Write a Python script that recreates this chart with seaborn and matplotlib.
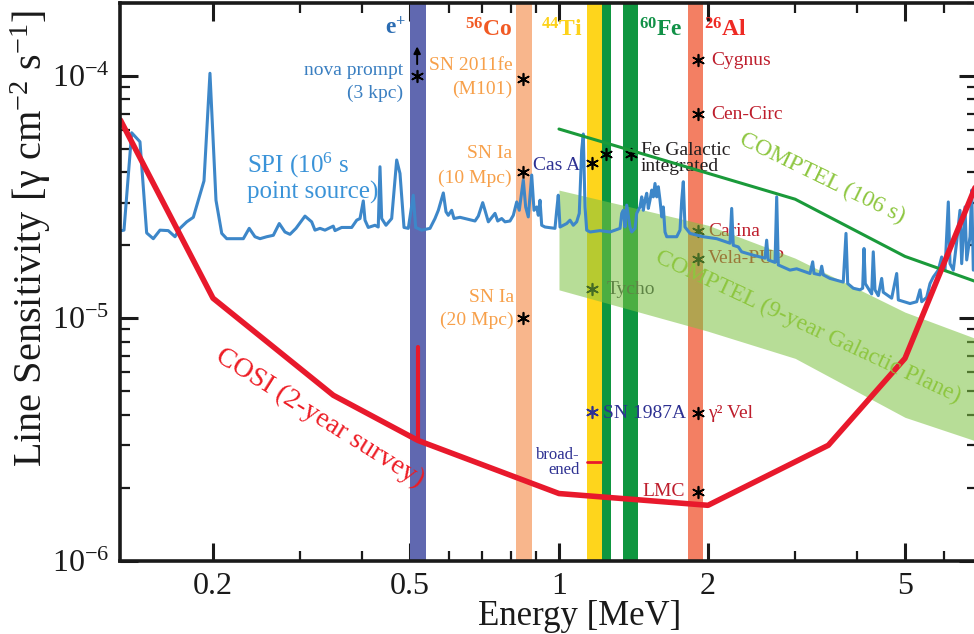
import numpy as np
import pandas as pd
import matplotlib
matplotlib.use("Agg")
import matplotlib.pyplot as plt
import seaborn as sns
from matplotlib.ticker import FixedLocator, FixedFormatter, NullFormatter

# ---------------- data ----------------
spi_energy = [0.1308, 0.1322, 0.1370, 0.1424, 0.1469, 0.1515, 0.1563, 0.1624, 0.1676, 0.1715,
              0.1770, 0.1825, 0.1918, 0.1972, 0.2028, 0.2083, 0.2132, 0.2303, 0.2367, 0.2431,
              0.2489, 0.2568, 0.2648, 0.2722, 0.2795, 0.2861, 0.2942, 0.3068, 0.3165, 0.3214,
              0.3290, 0.3367, 0.3499, 0.3528, 0.3639, 0.3813, 0.3903, 0.3963, 0.4024, 0.4056,
              0.4118, 0.4249, 0.4314, 0.4349, 0.4383, 0.4472, 0.4592, 0.4700, 0.4773, 0.4863,
              0.4961, 0.5077, 0.5134, 0.5280, 0.5488, 0.5617, 0.5705, 0.5839, 0.5912, 0.5976,
              0.6070, 0.6136, 0.6310, 0.6558, 0.6766, 0.6871, 0.7013, 0.7088, 0.7199, 0.7426,
              0.7520, 0.7660, 0.7779, 0.7962, 0.8086, 0.8214, 0.8313, 0.8471, 0.8564, 0.8670,
              0.8808, 0.8903, 0.9015, 0.9083, 0.9155, 0.9227, 0.9369, 0.9815, 0.9894, 0.9967,
              1.0047, 1.0365, 1.0525, 1.0688, 1.0858, 1.0990, 1.1113, 1.1197, 1.1287, 1.1376,
              1.1553, 1.2100, 1.2677, 1.3284, 1.3390, 1.3489, 1.3594, 1.3703, 1.3804, 1.3914,
              1.4026, 1.4242, 1.4355, 1.4576, 1.4693, 1.4803, 1.4920, 1.5040, 1.5151, 1.5270,
              1.5394, 1.5508, 1.5631, 1.5757, 1.5874, 1.5999, 1.6128, 1.6247, 1.6375, 1.6507,
              1.7293, 1.7558, 1.7699, 1.7830, 1.7970, 1.8394, 1.9565, 2.0827, 2.2155, 2.2330,
              2.2496, 2.3024, 2.3391, 2.4697, 2.6071, 2.6276, 2.6471, 2.7317, 2.7531, 2.7735,
              2.9286, 3.0210, 3.2146, 3.2548, 3.2749, 3.3675, 3.3941, 3.4195, 3.5277, 3.7522,
              3.8003, 3.8305, 3.9317, 4.0560, 4.1068, 4.1324, 4.1573, 4.2825, 4.3142, 4.3488,
              4.4164, 4.4864, 4.5203, 4.7000, 4.8108, 4.8474, 5.1181, 5.2804, 5.3626, 5.4048,
              5.5311, 5.6170, 5.7044, 5.8385, 5.9307, 6.0230, 6.1165, 6.1646, 6.2604, 6.3598,
              6.4583, 6.5092, 6.6105, 6.6626, 6.7664, 6.8195, 6.8707]
spi_sens = [2.30e-5, 2.31e-5, 5.83e-5, 5.35e-5, 2.25e-5, 2.13e-5, 2.31e-5, 2.30e-5, 2.17e-5, 2.35e-5,
            2.50e-5, 2.61e-5, 3.69e-5, 1.026e-4, 3.07e-5, 2.24e-5, 2.13e-5, 2.13e-5, 2.35e-5, 2.17e-5,
            2.13e-5, 2.17e-5, 2.20e-5, 2.46e-5, 2.27e-5, 2.22e-5, 2.35e-5, 2.64e-5, 2.50e-5, 2.31e-5,
            2.35e-5, 2.31e-5, 2.40e-5, 2.30e-5, 2.37e-5, 2.37e-5, 2.54e-5, 2.58e-5, 3.05e-5, 2.54e-5,
            2.37e-5, 2.42e-5, 2.38e-5, 4.22e-5, 2.58e-5, 2.42e-5, 2.58e-5, 4.50e-5, 3.96e-5, 2.37e-5,
            2.35e-5, 3.22e-5, 2.37e-5, 2.31e-5, 2.35e-5, 2.58e-5, 2.79e-5, 3.29e-5, 2.75e-5, 2.66e-5,
            2.79e-5, 2.58e-5, 2.61e-5, 2.56e-5, 2.52e-5, 2.64e-5, 3.00e-5, 2.79e-5, 2.50e-5, 2.71e-5,
            2.52e-5, 2.58e-5, 2.50e-5, 2.52e-5, 2.66e-5, 3.02e-5, 2.79e-5, 3.72e-5, 2.88e-5, 2.62e-5,
            3.90e-5, 2.79e-5, 2.88e-5, 2.66e-5, 3.07e-5, 2.42e-5, 2.38e-5, 2.35e-5, 2.79e-5, 3.22e-5,
            2.38e-5, 2.46e-5, 2.54e-5, 2.42e-5, 2.50e-5, 2.71e-5, 4.94e-5, 5.76e-5, 2.88e-5, 2.31e-5,
            2.27e-5, 2.30e-5, 2.27e-5, 2.35e-5, 2.71e-5, 2.79e-5, 2.38e-5, 2.93e-5, 2.66e-5, 2.38e-5,
            2.27e-5, 2.35e-5, 2.71e-5, 2.88e-5, 3.17e-5, 2.79e-5, 3.07e-5, 3.28e-5, 2.84e-5, 3.07e-5,
            3.38e-5, 3.17e-5, 3.60e-5, 3.17e-5, 3.49e-5, 3.07e-5, 2.62e-5, 2.88e-5, 2.27e-5, 2.17e-5,
            2.17e-5, 2.31e-5, 3.07e-5, 3.66e-5, 2.38e-5, 2.24e-5, 2.17e-5, 2.13e-5, 2.04e-5, 2.84e-5,
            2.00e-5, 1.97e-5, 1.88e-5, 1.82e-5, 1.77e-5, 2.10e-5, 1.74e-5, 1.70e-5, 3.17e-5, 1.66e-5,
            1.58e-5, 1.60e-5, 1.53e-5, 1.71e-5, 1.53e-5, 1.51e-5, 1.64e-5, 1.51e-5, 1.46e-5, 1.41e-5,
            2.24e-5, 1.39e-5, 1.33e-5, 1.31e-5, 1.33e-5, 1.94e-5, 1.39e-5, 1.26e-5, 1.88e-5, 1.31e-5,
            1.24e-5, 1.46e-5, 1.28e-5, 1.21e-5, 1.53e-5, 1.19e-5, 1.15e-5, 1.17e-5, 1.31e-5, 1.17e-5,
            1.22e-5, 1.39e-5, 1.48e-5, 1.58e-5, 1.79e-5, 1.58e-5, 3.02e-5, 1.68e-5, 1.58e-5, 2.07e-5,
            2.79e-5, 1.68e-5, 2.88e-5, 1.74e-5, 2.17e-5, 3.38e-5, 1.58e-5]

cosi_energy = [0.13, 0.2, 0.35, 0.519, 1.0, 2.0, 3.5, 5.0, 7.0]
cosi_sens = [6.58e-5, 1.21e-5, 4.81e-6, 3.13e-6, 1.89e-6, 1.69e-6, 2.99e-6, 6.83e-6, 3.65e-5]

cosi_posi_energy = [0.519, 0.519]
cosi_posi_sens = [3.13e-6, 7.59e-6]
cosi_broad_energy = [1.139, 1.216]
cosi_broad_sens = [2.54e-6, 2.54e-6]

comptel_energy = [1.0, 3.0, 5.0, 7.0]
comptel_sens = [6.04e-5, 3.10e-5, 1.80e-5, 1.41e-5]

gp_energy = [1.0, 2.0, 3.0, 5.0, 7.0]
gp_upper = [3.38e-5, 2.42e-5, 1.77e-5, 1.06e-5, 8.2e-6]
gp_lower = [1.31e-5, 8.84e-6, 6.83e-6, 3.90e-6, 3.1e-6]

line_names = ["e+", "56Co", "44Ti", "60Fe a", "60Fe b", "26Al"]
line_lo = [0.500, 0.819, 1.139, 1.221, 1.347, 1.822]
line_hi = [0.538, 0.882, 1.221, 1.274, 1.444, 1.954]
line_colors = ["#6068b0", "#f8b68c", "#fed51c", "#0f9640", "#0f9640", "#f37f63"]

src_names = ["nova", "SN 2011fe", "SN Ia 10", "SN Ia 20", "Cas A", "Fe1", "Fe2", "Tycho",
             "Cygnus", "Cen-Circ", "Carina", "Vela-PUP", "gam2 Vel", "LMC"]
src_energy = [0.517, 0.847, 0.847, 0.847, 1.165, 1.247, 1.395, 1.165,
              1.905, 1.905, 1.905, 1.905, 1.905, 1.905]
src_flux = [1.0e-4, 9.7e-5, 4.0e-5, 1.0e-5, 4.37e-5, 4.76e-5, 4.76e-5, 1.32e-5,
            1.164e-4, 6.97e-5, 2.29e-5, 1.75e-5, 4.05e-6, 1.91e-6]
sn87_energy = [1.165]
sn87_flux = [4.09e-6]

xticks_major = [0.2, 0.5, 1, 2, 5]
xtick_labels = ["0.2", "0.5", "1", "2", "5"]
xticks_minor = [0.3, 0.4, 0.6, 0.7, 0.8, 0.9, 3, 4, 6, 7]
yticks_major = [1e-6, 1e-5, 1e-4]
ytick_labels = [r"10$^{\mathregular{-6}}$", r"10$^{\mathregular{-5}}$", r"10$^{\mathregular{-4}}$"]
yticks_minor = [k * 10.0 ** e for e in (-6, -5) for k in range(2, 10)] + [2e-4]

# ---------------- style ----------------
sns.set_style("ticks")
plt.rcParams["font.family"] = ["Liberation Serif", "DejaVu Serif"]
plt.rcParams["mathtext.fontset"] = "custom"
plt.rcParams["mathtext.rm"] = "Liberation Serif"
plt.rcParams["mathtext.it"] = "Liberation Serif:italic"
plt.rcParams["mathtext.bf"] = "Liberation Serif:bold"

fig = plt.figure(figsize=(9.74, 6.34), dpi=100)
ax = fig.add_axes([0.1236, 0.1159, 0.8798, 0.8793])
ax.set_xscale("log")
ax.set_yscale("log")
ax.set_xlim(0.13, 7)
ax.set_ylim(1e-6, 2e-4)

# vertical line bands
for lo, hi, c in zip(line_lo, line_hi, line_colors):
    ax.axvspan(lo, hi, color=c, lw=0, zorder=1)

# source markers (under the COMPTEL band)
sns.scatterplot(x=src_energy, y=src_flux, marker=(6, 2, 0), s=70, color="black",
                linewidth=1.2, edgecolor="black", ax=ax, zorder=1.5, legend=False)
sns.scatterplot(x=sn87_energy, y=sn87_flux, marker=(6, 2, 0), s=70, color="#2e3192",
                linewidth=1.2, edgecolor="#2e3192", ax=ax, zorder=1.5, legend=False)

# COMPTEL Galactic plane band
ax.fill_between(gp_energy, gp_lower, gp_upper, color="#7dc242", alpha=0.55, lw=0, zorder=2)

# SPI
sns.lineplot(x=spi_energy, y=spi_sens, sort=False, estimator=None, color="#3d87c9",
             linewidth=2.2, ax=ax, zorder=3)
# COMPTEL 1e6 s
sns.lineplot(x=comptel_energy, y=comptel_sens, sort=False, estimator=None, color="#1a9a3a",
             linewidth=2.2, ax=ax, zorder=3)
# COSI
sns.lineplot(x=cosi_energy, y=cosi_sens, sort=False, estimator=None, color="#e8192c",
             linewidth=4.0, ax=ax, zorder=4)
sns.lineplot(x=cosi_posi_energy, y=cosi_posi_sens, sort=False, estimator=None, color="#e8192c",
             linewidth=3.0, ax=ax, zorder=4)
sns.lineplot(x=cosi_broad_energy, y=cosi_broad_sens, sort=False, estimator=None, color="#e8192c",
             linewidth=2.0, ax=ax, zorder=4)

# nova arrow
ax.annotate("", xy=(src_energy[0], 1.36e-4), xytext=(src_energy[0], 1.09e-4),
            arrowprops=dict(arrowstyle="-|>", color="black", lw=1.4, mutation_scale=10), zorder=5)

# ---------------- ticks / axes ----------------
ax.xaxis.set_major_locator(FixedLocator(xticks_major))
ax.xaxis.set_major_formatter(FixedFormatter(xtick_labels))
ax.xaxis.set_minor_locator(FixedLocator(xticks_minor))
ax.xaxis.set_minor_formatter(NullFormatter())
ax.yaxis.set_major_locator(FixedLocator(yticks_major))
ax.yaxis.set_major_formatter(FixedFormatter(ytick_labels))
ax.yaxis.set_minor_locator(FixedLocator(yticks_minor))
ax.yaxis.set_minor_formatter(NullFormatter())
ax.tick_params(which="both", direction="in", top=True, right=True, color="#1a1a1a")
ax.tick_params(which="major", length=13, width=2.2, labelsize=23, pad=8, colors="#1a1a1a")
ax.tick_params(which="minor", length=7, width=1.6)
for s in ax.spines.values():
    s.set_linewidth(2.6)
    s.set_color("#1a1a1a")
    s.set_zorder(6)

ax.set_xlabel("Energy [MeV]", fontsize=25, color="#1a1a1a")
ax.xaxis.set_label_coords(0.536, -0.0715)
ax.set_ylabel("Line Sensitivity [γ cm$^{\\mathregular{-2}}$ s$^{\\mathregular{-1}}$]",
              fontsize=29, color="#1a1a1a")
ax.yaxis.set_label_coords(-0.0785, 0.578)

# ---------------- annotations ----------------
T = ax.transAxes
def txt(x, y, s, c, size=14, ha="left", va="center", z=1.6, **kw):
    ax.text(x, y, s, color=c, fontsize=size, ha=ha, va=va, transform=T, zorder=z, **kw)

# band labels
txt(0.3216, 0.955, r"e$^{\mathbf{+}}$", "#2b6cb2", 17, ha="center", weight="bold", z=7)
txt(0.4302, 0.951, r"$^{\mathbf{56}}$Co", "#f15a24", 17, ha="center", weight="bold", z=7)
txt(0.5150, 0.951, r"$^{\mathbf{44}}$Ti", "#fdd21a", 17, ha="center", weight="bold", z=7)
txt(0.6303, 0.951, r"$^{\mathbf{60}}$Fe", "#119147", 17, ha="center", weight="bold", z=7)
txt(0.7056, 0.951, r"$^{\mathbf{26}}$Al", "#ee2a24", 17, ha="center", weight="bold", z=7)

blue = "#3a7fc1"
orange = "#f7a04a"
dblue = "#2e3192"
red = "#be1e2d"
txt(0.3301, 0.8786, "nova prompt", blue, ha="right")
txt(0.3301, 0.8380, "(3 kpc)", blue, ha="right")
txt(0.4578, 0.8882, "SN 2011fe", orange, ha="right")
txt(0.4578, 0.8452, "(M101)", orange, ha="right")
txt(0.4566, 0.7304, "SN Ia", orange, ha="right")
txt(0.4566, 0.6856, "(10 Mpc)", orange, ha="right")
txt(0.4593, 0.4726, "SN Ia", orange, ha="right")
txt(0.4593, 0.4314, "(20 Mpc)", orange, ha="right")
txt(0.5364, 0.7094, "Cas A", dblue, ha="right")
txt(0.6075, 0.7363, "Fe Galactic", "#231f20")
txt(0.6075, 0.7064, "integrated", "#231f20")
txt(0.5675, 0.4870, "Tycho", "#3a3a4a")
txt(0.5628, 0.2640, "SN 1987A", dblue)
txt(0.5364, 0.1760, "broad-\nened", dblue, size=12, ha="right", multialignment="right",
    linespacing=0.85)
txt(0.6900, 0.8972, "Cygnus", red)
txt(0.6900, 0.8009, "Cen-Circ", red)
txt(0.6857, 0.5898, "Carina", red)
txt(0.6857, 0.5420, "Vela-PUP", red)
txt(0.6860, 0.2640, "γ² Vel", red)
txt(0.6589, 0.1234, "LMC", red, ha="right")

txt(0.1474, 0.6866, "SPI (10$^{6}$ s\npoint source)", "#3a93d8", 18, linespacing=1.05)
txt(0.2330, 0.2560, "COSI (2-year survey)", "#ed1c24", 20, ha="center", rotation=-32,
    rotation_mode="anchor", z=7)
txt(0.8188, 0.6860, "COMPTEL (106 s)", "#8dc63f", 17, ha="center", rotation=-26,
    rotation_mode="anchor", z=7)
txt(0.8024, 0.4188, "COMPTEL (9-year Galactic Plane)", "#8dc63f", 17, ha="center",
    rotation=-25, rotation_mode="anchor", z=7)

fig.savefig("out.png", dpi=100)
